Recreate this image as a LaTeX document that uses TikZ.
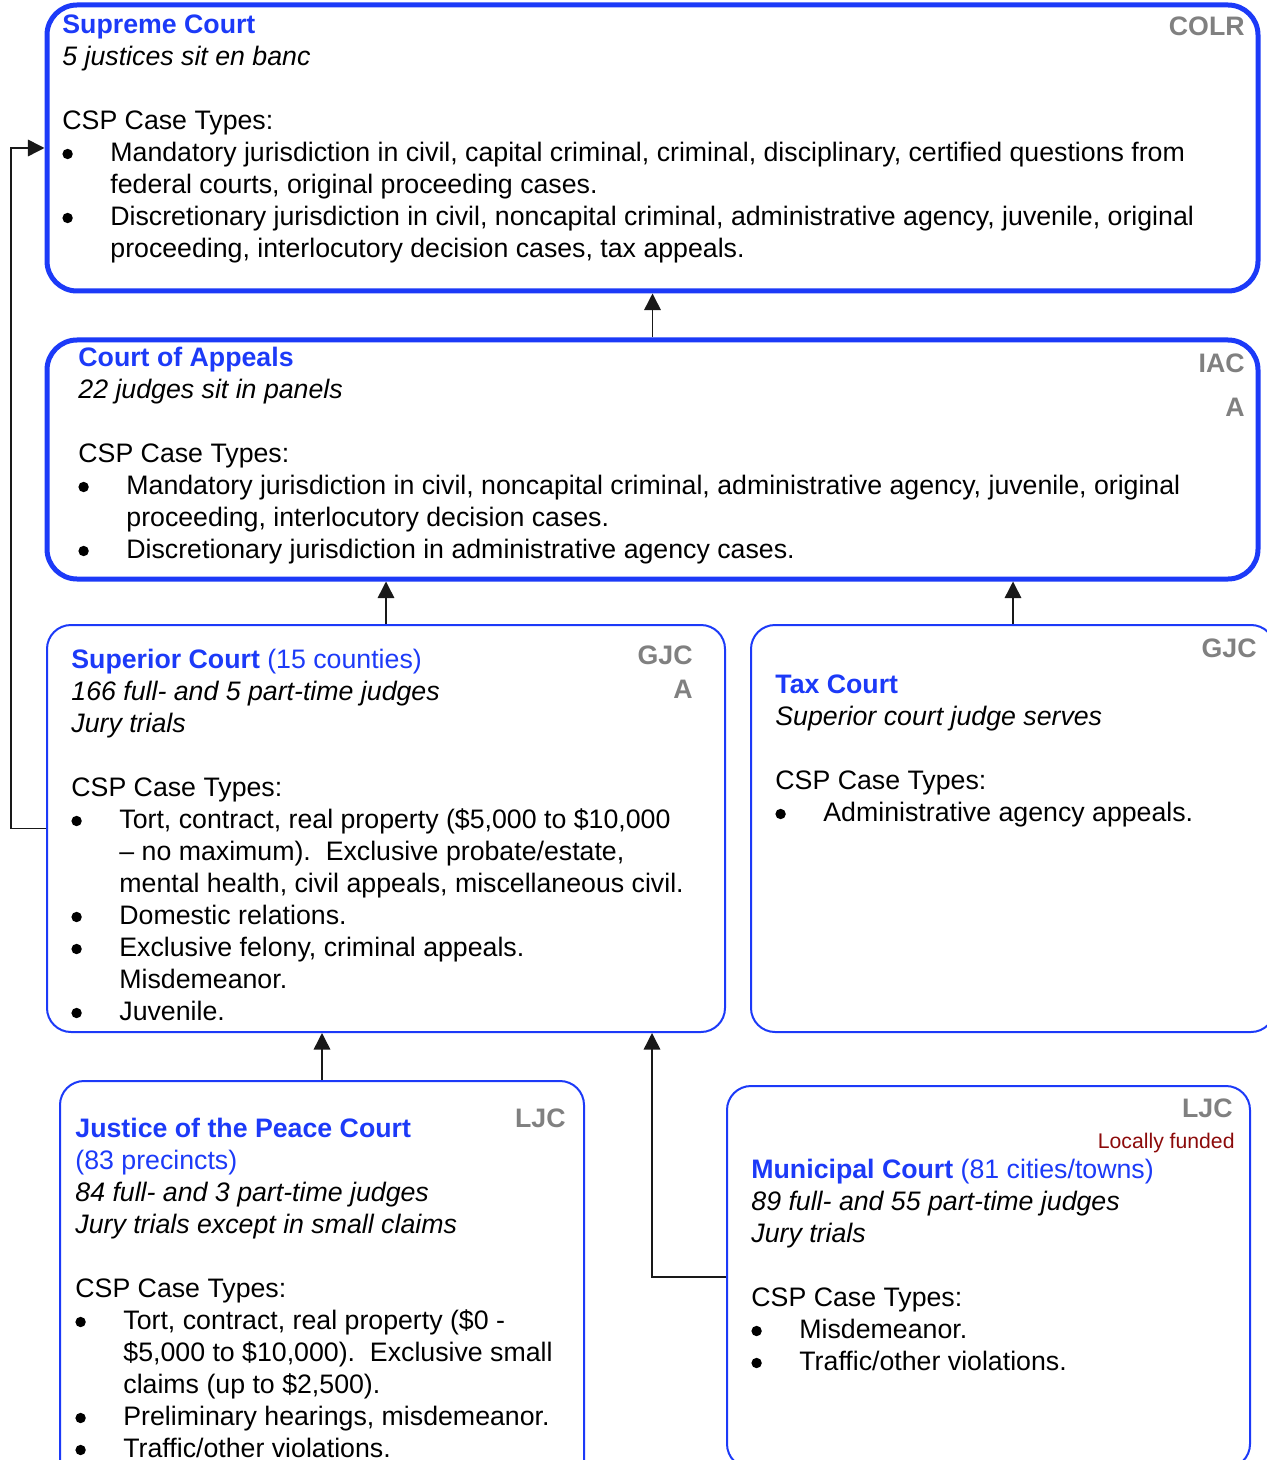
\documentclass[tikz,border=0pt]{standalone}
\usepackage{fontspec}
\setmainfont{Liberation Sans}
\usetikzlibrary{fit,arrows.meta}
\definecolor{courtblue}{RGB}{28,58,248}
\definecolor{lvlgray}{RGB}{128,128,128}
\definecolor{fundred}{RGB}{140,10,10}
\newcommand{\courtarrowstyle}{-{Triangle[length=2.9mm,width=2.9mm]}}
\newcommand{\courttitle}[1]{\textbf{\color{courtblue}#1}}
\newcommand{\courtbul}{\makebox[24pt][l]{\tikz[baseline=-3.7pt]\fill (0,0) circle (2.6pt);}}
\newcommand{\courtind}{\hspace*{24pt}}

\begin{document}
\begin{tikzpicture}[
    x=0.5pt, y=-0.5pt,
    font=\fontsize{13.36}{16}\selectfont,
    conn/.style={\courtarrowstyle, draw=black!90, line width=0.75pt},
    topbox/.style={draw=courtblue, line width=2.5pt, rounded corners=15pt, inner sep=0pt},
    lowbox/.style={draw=courtblue, line width=1pt, rounded corners=12pt, inner sep=0pt},
    txt/.style={anchor=north west, inner sep=0pt, align=left},
    lvl/.style={anchor=base east, inner sep=0pt, text=lvlgray, font=\fontsize{13.36}{16}\selectfont\bfseries}
]
  \clip (0,0) rectangle (1267,1460);

  % court boxes
  \node[topbox, fit={(47,5) (1258,291)}] (supreme) {};
  \node[topbox, fit={(47,340) (1258,579)}] (appeals) {};
  \node[lowbox, fit={(47,625) (725,1032)}] (superior) {};
  \node[lowbox, fit={(751,625) (1275,1032)}] (tax) {};
  \node[lowbox, fit={(60,1081) (584,1485)}] (jp) {};
  \node[lowbox, fit={(727,1086) (1250,1468)}] (muni) {};

  % supreme court
  \node[txt] (supremetxt) at (62,10.6) {\strut\courttitle{Supreme Court}\\
    \emph{5 justices sit en banc}\\
    \mbox{}\\
    CSP Case Types:\\
    \courtbul Mandatory jurisdiction in civil, capital criminal, criminal, disciplinary, certified questions from\\
    \courtind federal courts, original proceeding cases.\\
    \courtbul Discretionary jurisdiction in civil, noncapital criminal, administrative agency, juvenile, original\\
    \courtind proceeding, interlocutory decision cases, tax appeals.};
  \node[lvl] (supremelvl) at (1245,36) {COLR};

  % court of appeals
  \node[txt] (appealstxt) at (78,343.6) {\strut\courttitle{Court of Appeals}\\
    \emph{22 judges sit in panels}\\
    \mbox{}\\
    CSP Case Types:\\
    \courtbul Mandatory jurisdiction in civil, noncapital criminal, administrative agency, juvenile, original\\
    \courtind proceeding, interlocutory decision cases.\\
    \courtbul Discretionary jurisdiction in administrative agency cases.};
  \node[lvl, anchor=north east, align=right] (appealslvl) at (1245,349.6) {\strut IAC\\[6pt]A};

  % superior court
  \node[txt] (superiortxt) at (71,645.6) {\strut\courttitle{Superior Court} {\color{courtblue}(15 counties)}\\
    \emph{166 full- and 5 part-time judges}\\
    \emph{Jury trials}\\
    \mbox{}\\
    CSP Case Types:\\
    \courtbul Tort, contract, real property (\$5,000 to \$10,000\\
    \courtind – no maximum).\ \ Exclusive probate/estate,\\
    \courtind mental health, civil appeals, miscellaneous civil.\\
    \courtbul Domestic relations.\\
    \courtbul Exclusive felony, criminal appeals.\\
    \courtind Misdemeanor.\\
    \courtbul Juvenile.};
  \node[lvl, anchor=north east, align=right] (superiorlvl) at (693,641.6) {\strut GJC\\[1pt]A};

  % tax court
  \node[txt] (taxtxt) at (775,670.6) {\strut\courttitle{Tax Court}\\
    \emph{Superior court judge serves}\\
    \mbox{}\\
    CSP Case Types:\\
    \courtbul Administrative agency appeals.};
  \node[lvl] (taxlvl) at (1257,657) {GJC};

  % justice of the peace court
  \node[txt] (jptxt) at (75,1114.6) {\strut\courttitle{Justice of the Peace Court}\\
    {\color{courtblue}(83 precincts)}\\
    \emph{84 full- and 3 part-time judges}\\
    \emph{Jury trials except in small claims}\\
    \mbox{}\\
    CSP Case Types:\\
    \courtbul Tort, contract, real property (\$0 -\\
    \courtind \$5,000 to \$10,000).\ \ Exclusive small\\
    \courtind claims (up to \$2,500).\\
    \courtbul Preliminary hearings, misdemeanor.\\
    \courtbul Traffic/other violations.};
  \node[lvl] (jplvl) at (566,1127) {LJC};

  % municipal court
  \node[txt] (munitxt) at (751,1155.6) {\strut\courttitle{Municipal Court} {\color{courtblue}(81 cities/towns)}\\
    \emph{89 full- and 55 part-time judges}\\
    \emph{Jury trials}\\
    \mbox{}\\
    CSP Case Types:\\
    \courtbul Misdemeanor.\\
    \courtbul Traffic/other violations.};
  \node[lvl] (munilvl) at (1233,1117) {LJC};
  \node[anchor=base east, inner sep=0pt, text=fundred, font=\fontsize{10.6}{13}\selectfont] (munifund) at (1235,1148) {Locally funded};

  % appeal routes
  \coordinate (muniup) at (652,0);
  \draw[conn] (appeals.north) -- (supreme.south);
  \draw[conn] (superior.north) -- (superior.north |- appeals.south);
  \draw[conn] (tax.north) -- (tax.north |- appeals.south);
  \draw[conn] (jp.north) -- (superior.south -| jp.north);
  \draw[conn] (muni.west) -| (superior.south -| muniup);
  \draw[conn] (superior.west) -- ++(-35,0) |- (supreme.west);
\end{tikzpicture}
\end{document}
